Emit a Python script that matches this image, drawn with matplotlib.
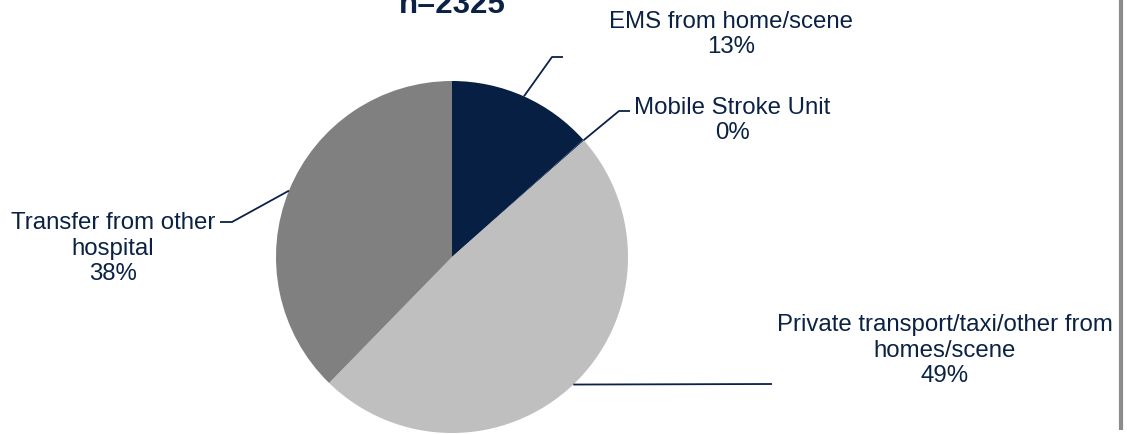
import numpy as np
import matplotlib.pyplot as plt

plt.rcParams['font.family'] = ['Liberation Sans', 'DejaVu Sans']

# arrival mode shares (%), n=2325
modes = ['EMS from home/scene', 'Mobile Stroke Unit',
         'Private transport/taxi/other from\nhomes/scene',
         'Transfer from other\nhospital']
shares = [13.4, 0.1, 48.8, 37.7]
colors = ['#061f42', '#0a2550', '#bfbfbf', '#808080']
n_total = 2325

navy = '#0b2245'
W, H = 1127, 435

fig = plt.figure(figsize=(W / 100, H / 100), dpi=100)
ax = fig.add_axes([0, 0, 1, 1])

cx, cy, r = 452, H - 258, 176
wedges, _ = ax.pie(shares, colors=colors, startangle=90, counterclock=False,
                   center=(cx, cy), radius=r, wedgeprops=dict(linewidth=0))
ax.set_xlim(0, W)
ax.set_ylim(0, H)
ax.set_aspect('equal')
ax.axis('off')

# label anchor: x centre and baseline of the last line (pixels from top)
label_pos = [(731, 53), (732, 139), (945, 382), (113, 280)]
# leader line bends / end points, pixels from top
leader_pts = [[(552, 58), (563, 58)],
              [(619, 112), (630, 112)],
              [(772, 385)],
              [(232, 223), (220, 223)]]

cum = np.cumsum([0] + shares[:-1])
for name, v, c0, (tx, ty), pts in zip(modes, shares, cum, label_pos, leader_pts):
    # leader starts on the rim at the middle of the wedge
    ang = np.deg2rad(90 - 3.6 * (c0 + v / 2))
    ex, ey = cx + r * np.cos(ang), cy + r * np.sin(ang)
    xs = [ex] + [p[0] for p in pts]
    ys = [ey] + [H - p[1] for p in pts]
    ax.plot(xs, ys, color=navy, lw=1.3, solid_capstyle='butt')
    ax.text(tx, H - ty, f'{name}\n{v:.0f}%', ha='center', va='baseline',
            fontsize=17.3, color=navy, multialignment='center')

ax.text(cx, H - 13, f'n={n_total}', ha='center', va='baseline',
        fontsize=22.5, fontweight='bold', color=navy)

# frame edge on the right
ax.plot([1121, 1121], [H, H - 431], color='#8c8c8c', lw=3, solid_capstyle='butt')

fig.savefig('out.png', dpi=100)
